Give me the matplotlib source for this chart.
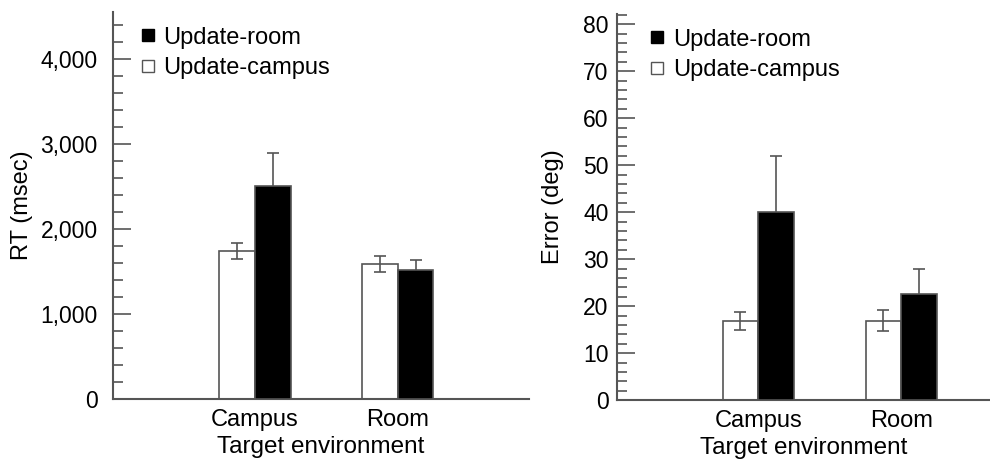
import numpy as np
import matplotlib.pyplot as plt
from matplotlib.ticker import MultipleLocator, FuncFormatter
from matplotlib.lines import Line2D

plt.rcParams['font.family'] = ['Liberation Sans', 'DejaVu Sans']

# Données
categories = ['Campus', 'Room']
rt_campus = [1745, 1584]      # Update-campus
rt_campus_err = [96, 94]
rt_room = [2510, 1514]        # Update-room
rt_room_err = [384, 118]
err_campus = [16.9, 16.9]
err_campus_err = [1.9, 2.3]
err_room = [40.1, 22.5]
err_room_err = [11.8, 5.4]

gris = '#555555'

fig = plt.figure(figsize=(9.9, 4.62), dpi=100)
ax1 = fig.add_axes([0.114, 0.136, 0.420, 0.838])
ax2 = fig.add_axes([0.623, 0.134, 0.377, 0.836])

x = np.arange(len(categories))
w = 0.25


def panneau(ax, blanc, blanc_err, noir, noir_err, ylim, major, minor, ylabel, xlim,
            fmt=None, ypad=10, lx=-0.2, legx=0.05):
    ax.bar(x - w / 2, blanc, w, color='white', edgecolor=gris, linewidth=1.2, zorder=2)
    ax.bar(x + w / 2, noir, w, color='black', edgecolor=gris, linewidth=1.2, zorder=3)
    ax.errorbar(x - w / 2, blanc, yerr=blanc_err, fmt='none', ecolor=gris,
                elinewidth=1.2, capsize=4, capthick=1.2, zorder=4)
    ax.errorbar(x + w / 2, noir, yerr=noir_err, fmt='none', ecolor=gris,
                elinewidth=1.2, capsize=4, capthick=1.2, zorder=1)
    ax.set_xlim(*xlim)
    ax.set_ylim(*ylim)
    ax.set_xticks(x)
    ax.set_xticklabels(categories, fontsize=17)
    ax.tick_params(axis='x', length=0, pad=7)
    ax.yaxis.set_major_locator(MultipleLocator(major))
    ax.yaxis.set_minor_locator(MultipleLocator(minor))
    if fmt is not None:
        ax.yaxis.set_major_formatter(FuncFormatter(fmt))
    ax.tick_params(axis='y', which='major', direction='in', length=13, width=1.2,
                   color=gris, labelsize=16.5, pad=ypad)
    ax.tick_params(axis='y', which='minor', direction='in', length=7, width=1.2, color=gris)
    for s in ['top', 'right']:
        ax.spines[s].set_visible(False)
    for s in ['left', 'bottom']:
        ax.spines[s].set_color(gris)
        ax.spines[s].set_linewidth(1.5)
    ax.set_ylabel(ylabel, fontsize=17, va='center')
    ax.yaxis.set_label_coords(lx, 0.5)
    ax.set_xlabel('Target environment', fontsize=17.5, labelpad=4)

    handles = [Line2D([], [], marker='s', linestyle='none', markersize=9,
                      markerfacecolor='black', markeredgecolor='black'),
               Line2D([], [], marker='s', linestyle='none', markersize=9,
                      markerfacecolor='white', markeredgecolor=gris)]
    ax.legend(handles, ['Update-room', 'Update-campus'], loc='upper left',
              bbox_to_anchor=(legx, 0.962), frameon=False, fontsize=17,
              handletextpad=0.05, labelspacing=0.36, handlelength=1.2,
              borderpad=0, borderaxespad=0)


panneau(ax1, rt_campus, rt_campus_err, rt_room, rt_room_err, (0, 4553), 1000, 200,
        'RT (msec)', (-0.993, 1.916), fmt=lambda v, p: '{:,.0f}'.format(v),
        ypad=11, lx=-0.219, legx=0.05)
panneau(ax2, err_campus, err_campus_err, err_room, err_room_err, (0, 82.2), 10, 2,
        'Error (deg)', (-0.99, 1.62), ypad=6, lx=-0.172, legx=0.071)

fig.savefig('out.png', dpi=100)
